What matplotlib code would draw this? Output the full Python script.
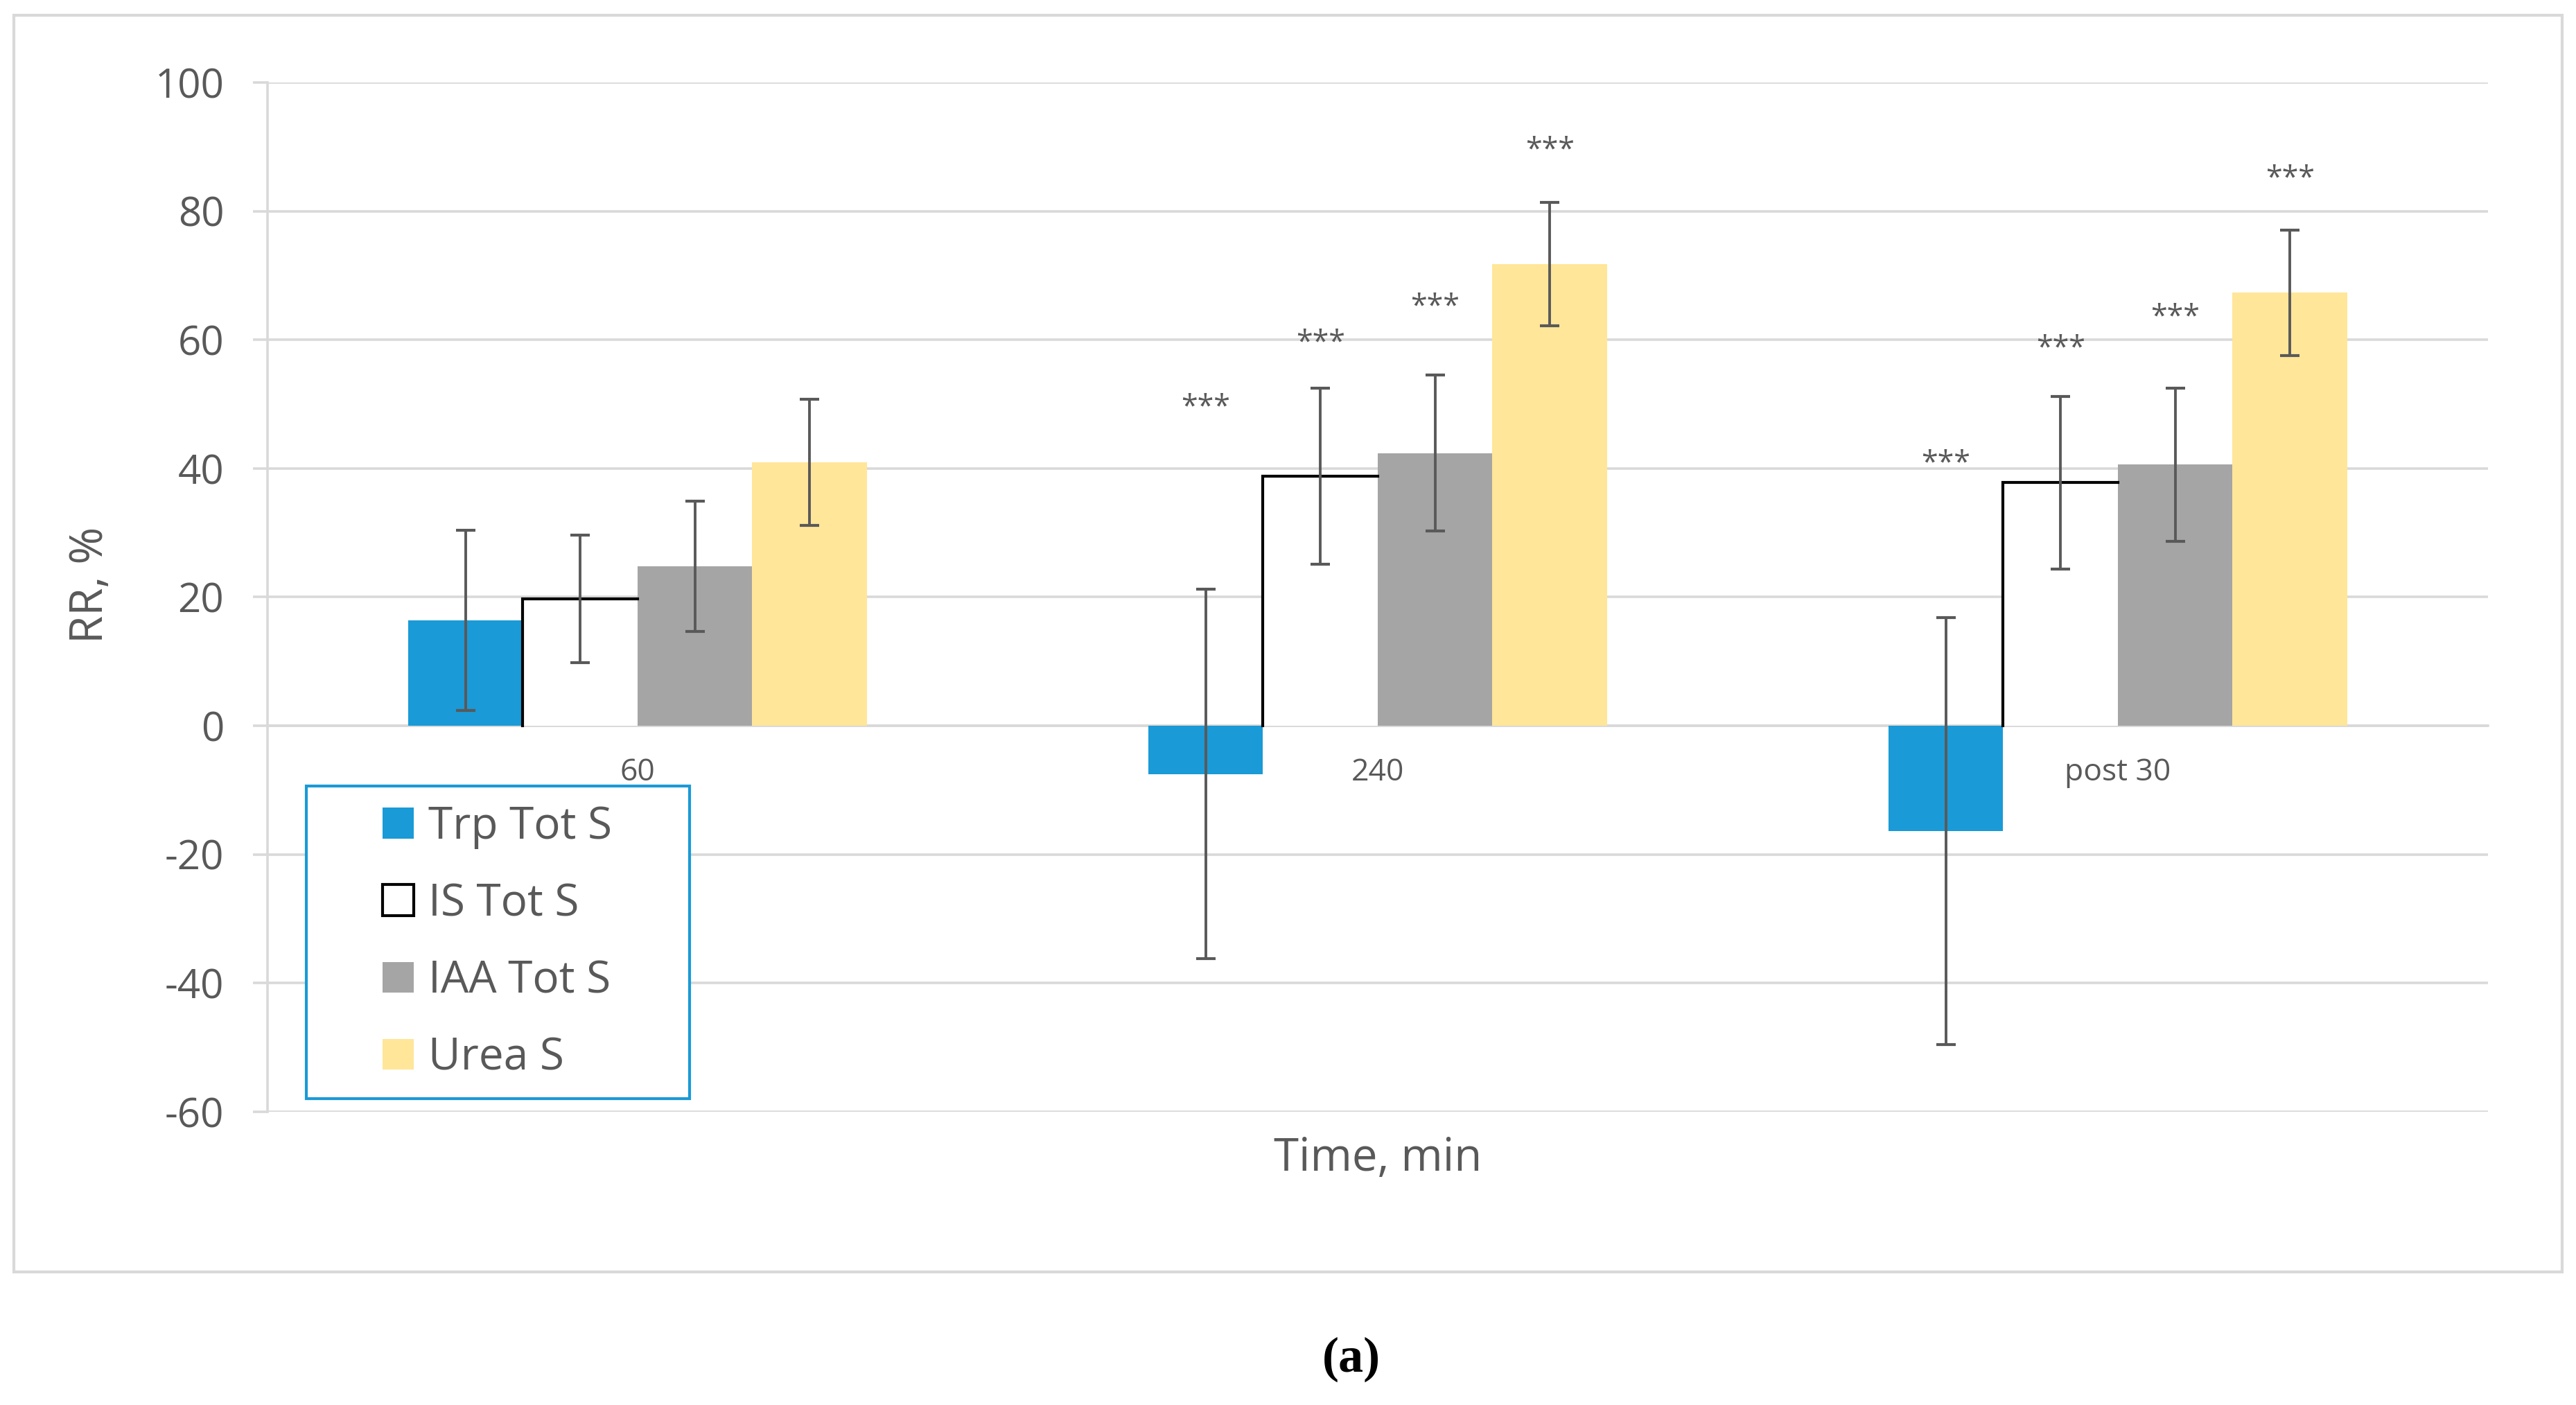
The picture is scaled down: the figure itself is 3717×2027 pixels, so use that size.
import numpy as np
import matplotlib
matplotlib.use("Agg")
import matplotlib.pyplot as plt
from matplotlib.patches import Rectangle
from matplotlib.legend_handler import HandlerPatch

plt.rcParams['font.family'] = ['Open Sans', 'DejaVu Sans']

# ---------------- data ----------------
categories = ['60', '240', 'post 30']
series_names = ['Trp Tot S', 'IS Tot S', 'IAA Tot S', 'Urea S']

trp_vals = [16.4, -7.5, -16.4]
trp_err = [14.0, 28.7, 33.2]
is_vals = [19.7, 38.8, 37.8]
is_err = [9.9, 13.7, 13.4]
iaa_vals = [24.8, 42.4, 40.6]
iaa_err = [10.1, 12.1, 11.9]
urea_vals = [41.0, 71.8, 67.3]
urea_err = [9.8, 9.6, 9.8]

# significance marks and their heights (data units)
trp_sig = ['', '***', '***']
trp_sig_y = [np.nan, 50.2, 41.5]
is_sig = ['', '***', '***']
is_sig_y = [np.nan, 60.2, 59.4]
iaa_sig = ['', '***', '***']
iaa_sig_y = [np.nan, 65.8, 64.2]
urea_sig = ['', '***', '***']
urea_sig_y = [np.nan, 90.2, 85.8]

yticks = [-60, -40, -20, 0, 20, 40, 60, 80, 100]

# ---------------- style ----------------
TXT = '#595959'
GRID = '#D9D9D9'
BLUE = '#1A9AD6'
GRAY = '#A5A5A5'
YEL = '#FFE699'

fig = plt.figure(figsize=(18.585, 10.135), dpi=200)
ax = fig.add_axes([0.1038, 0.2087, 0.862, 0.7326])

x = np.arange(len(categories))
w = 0.155
offs = (np.arange(4) - 1.5) * w

# Trp bars
ax.bar(x + offs[0], trp_vals, w, color=BLUE, zorder=2)
# IS bars: white fill, outline on left and top only
is_bars = ax.bar(x + offs[1], is_vals, w, color='white', zorder=2)
for p in is_bars.patches:
    x0, h, bw = p.get_x(), p.get_height(), p.get_width()
    ax.plot([x0, x0, x0 + bw], [0, h, h], color='black', lw=1.5,
            solid_joinstyle='miter', zorder=3)
ax.bar(x + offs[2], iaa_vals, w, color=GRAY, zorder=2)
ax.bar(x + offs[3], urea_vals, w, color=YEL, zorder=2)

all_vals = [trp_vals, is_vals, iaa_vals, urea_vals]
all_err = [trp_err, is_err, iaa_err, urea_err]
all_sig = [trp_sig, is_sig, iaa_sig, urea_sig]
all_sig_y = [trp_sig_y, is_sig_y, iaa_sig_y, urea_sig_y]
for i in range(4):
    ax.errorbar(x + offs[i], all_vals[i], yerr=all_err[i], fmt='none',
                ecolor=TXT, elinewidth=1.4, capsize=5, capthick=1.5, zorder=4)
    for j in range(len(categories)):
        if all_sig[i][j]:
            ax.annotate(all_sig[i][j], (x[j] + offs[i], all_sig_y[i][j]),
                        xytext=(0, -2.5), textcoords='offset points',
                        ha='center', va='center', fontsize=15.5, color=TXT)

ax.set_xlim(-0.5, len(categories) - 0.5)
ax.set_ylim(-60, 100)
ax.set_yticks(yticks)
ax.set_yticklabels([str(t) for t in yticks])
ax.set_xticks(x)
ax.set_xticklabels(categories)

ax.yaxis.grid(True, color=GRID, lw=1.3, zorder=0)
ax.set_axisbelow(True)
for s in ['top', 'right']:
    ax.spines[s].set_visible(False)
ax.spines['left'].set_color(GRID)
ax.spines['left'].set_linewidth(1.3)
ax.spines['bottom'].set_position(('data', 0))
ax.spines['bottom'].set_color(GRID)
ax.spines['bottom'].set_linewidth(1.3)
ax.spines['bottom'].set_zorder(1)

ax.tick_params(axis='y', length=7.5, width=1.3, color=GRID, pad=15,
               labelsize=21, labelcolor=TXT)
ax.tick_params(axis='x', length=0, pad=16.3, labelsize=16, labelcolor=TXT)

# axis titles
fig.text(0.0352, 0.5836, 'RR, %', rotation=90, ha='center', va='center',
         fontsize=23.5, color=TXT)
fig.text(0.535, 0.1667, 'Time, min', ha='center', va='baseline',
         fontsize=23.5, color=TXT)
fig.text(0.5245, 0.0237, '(a)', ha='center', va='baseline', fontsize=26,
         fontweight='bold', family=['Liberation Serif', 'DejaVu Serif'],
         color='black')

# outer chart border
fig.add_artist(Rectangle((0.0054, 0.0947), 0.9892, 0.8944,
                         transform=fig.transFigure, fill=False,
                         edgecolor=GRID, lw=1.5))


class SquareHandler(HandlerPatch):
    def create_artists(self, legend, orig_handle, xdescent, ydescent,
                       width, height, fontsize, trans):
        s = height
        p = Rectangle((-xdescent + width - s, -ydescent), s, s)
        self.update_prop(p, orig_handle, legend)
        p.set_transform(trans)
        return [p]


handles = [
    Rectangle((0, 0), 1, 1, facecolor=BLUE, edgecolor='none'),
    Rectangle((0, 0), 1, 1, facecolor='white', edgecolor='black', lw=1.5),
    Rectangle((0, 0), 1, 1, facecolor=GRAY, edgecolor='none'),
    Rectangle((0, 0), 1, 1, facecolor=YEL, edgecolor='none'),
]
leg = ax.legend(handles, series_names, handler_map={Rectangle: SquareHandler()},
                loc='upper left', bbox_to_anchor=(0.1189, 0.22, 0.1488, 0.2206),
                bbox_transform=fig.transFigure, mode='expand', borderaxespad=0,
                borderpad=0.42, handlelength=2.0, handleheight=0.69,
                handletextpad=0.33, labelspacing=0.74, fontsize=23,
                frameon=True, fancybox=False, framealpha=1, labelcolor=TXT)
leg.get_frame().set_edgecolor(BLUE)
leg.get_frame().set_linewidth(1.5)
leg.set_zorder(5)

fig.savefig('out.png', dpi=200, facecolor='white')
